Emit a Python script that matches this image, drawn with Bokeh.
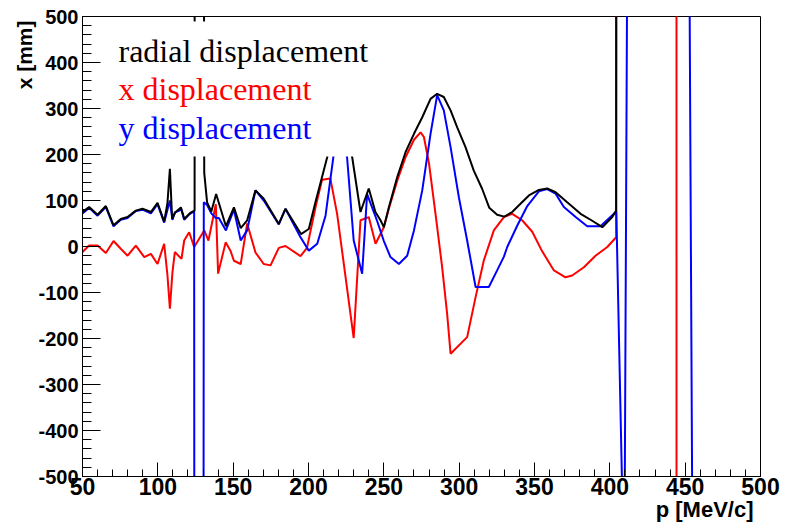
from bokeh.plotting import figure
from bokeh.models import Range1d, SingleIntervalTicker, BoxAnnotation, Label, PrintfTickFormatter, Title
from bokeh.embed import file_html
from bokeh.resources import INLINE

# ---- data ----
# x displacement (red)
x_p = [50, 54.4, 60, 65.5, 70.6, 75.4, 79.9, 85.4, 91, 95.4, 99.8, 104.2, 106.4, 108, 109.7,
       111.3, 115.7, 117.5, 120.8, 124.1, 130.8, 133.6, 138.5, 140, 145, 148.2, 150.5, 155,
       159.3, 164.8, 170.3, 174.8, 180.3, 184.7, 194.7, 199, 201.3, 205, 209, 214.5, 219, 230,
       234.5, 240, 244.5, 250, 253.3, 258.9, 264.4, 270, 274.4, 276.6, 280, 284.3, 288.7, 292,
       294.3, 305.3, 310.9, 316.4, 323, 329.7, 335.2, 341.8, 348.5, 355, 362.9, 370.6, 375,
       382.8, 390.5, 398.3, 404.2, 404.5, 444.2, 444.3, 500]
x_val = [-12, 2, 2, -14, 12, -5, -20, 2, -23, -16, -38, 6, -63, -135, -56,
         -12, -27, 13, 31, -1, 35, 13, 92, -59, 9, -9, -31, -38,
         50, -13, -38, -41, -3, 1, -21, -3, 33, 90, 145, 148, 71, -199,
         57, 64, 6, 42, 82, 143, 194, 232, 248, 238, 180, 71, -45, -146,
         -233, -197, -110, -30, 35, 64, 71, 57, 32, -10, -52, -67, -63,
         -45, -20, -1, 20, 3000, 3000, -3000, -3000]

# y displacement (blue)
y_p = [50, 54.4, 60, 65.5, 70.6, 75.4, 79.9, 85.4, 89.8, 95.4, 99.8, 104.2, 106.4, 108, 109.7,
       111.3, 115.7, 117.5, 120.8, 124.1, 124.6, 129.8, 130.5, 132.7, 135.5, 138.5, 140.5,
       145.2, 150.5, 155, 159.3, 164.8, 170.3, 180.3, 184.7, 194.7, 200.2, 205.8, 211.3, 220,
       225.6, 230, 235.6, 238.9, 245.5, 249.9, 254.4, 260, 265.5, 270, 275.5, 281, 285.4,
       289.8, 294.3, 299.8, 305.3, 310.9, 319.7, 325.2, 329.7, 331.9, 338.5, 345.2, 352.9,
       358.4, 364, 369.5, 377.3, 385, 393.8, 404.3, 409.6, 412.5, 452.6, 456, 500]
y_val = [72, 84, 67, 86, 44, 58, 62, 77, 80, 72, 92, 52, 80, 100, 58,
         74, 80, 58, 70, 77, -3000, -3000, 96, 90, 72, 62, 62,
         35, 80, 13, 35, 122, 100, 48, 82, 20, -9, 6, 67, 280,
         194, 13, -59, 114, 56, 13, -23, -38, -20, 35, 122, 245, 329,
         296, 216, 107, 13, -88, -88, -52, -22, -1, 45, 88, 120,
         125, 115, 86, 64, 44, 44, 76, -750, 1300, 750, -1375, -1500]

# radial displacement (black)
r_p = [50, 54.4, 60, 65.5, 70.6, 75.4, 79.9, 85.4, 89.8, 95.4, 99.8, 104.2, 106.4, 108, 109.5,
       111.5, 115.3, 117.5, 121.5, 124.4, 124.6, 129.7, 130.8, 132.7, 135.5, 138.7, 145.2,
       150.5, 155, 159.3, 164.8, 170.3, 180.3, 184.7, 195, 200.2, 204.6, 209, 212.4, 220,
       229, 234.5, 240, 244.4, 247.8, 250, 253.3, 258.9, 264.4, 270, 275.5, 281, 285.4, 289.8,
       294.3, 298.7, 304.2, 309.7, 315.3, 320, 325.2, 330, 335.2, 340.7, 346.3, 352.9, 358.4,
       364, 371.7, 380.6, 388.3, 395, 401.6, 404.2, 404.5, 500]
r_val = [75, 86, 69, 88, 46, 60, 64, 78, 82, 75, 95, 54, 95, 169, 60,
         74, 85, 60, 73, 78, 3000, 3000, 160, 96, 76, 114, 44,
         85, 40, 57, 122, 104, 49, 82, 27, 38, 96, 151, 194, 300,
         194, 75, 126, 75, 57, 42, 85, 151, 205, 245, 281, 321, 332, 325,
         296, 259, 216, 165, 125, 84, 69, 65, 75, 93, 111, 123, 126,
         118, 96, 71, 56, 42, 64, 78, 3000, 3000]

legend_labels = ["radial displacement", "x displacement", "y displacement"]
legend_colors = ["black", "#ff0000", "#0000ff"]

# ---- figure ----
p = figure(width=793, height=522, output_backend="svg", toolbar_location=None,
           x_range=Range1d(50, 500), y_range=Range1d(-500, 500),
           min_border_left=82, min_border_right=33, min_border_top=16, min_border_bottom=46)
p.background_fill_color = "white"
p.border_fill_color = "white"
p.outline_line_color = "black"
p.outline_line_width = 1
p.xgrid.visible = False
p.ygrid.visible = False

p.xaxis.ticker = SingleIntervalTicker(interval=50, num_minor_ticks=5)
p.yaxis.ticker = SingleIntervalTicker(interval=100, num_minor_ticks=5)
for ax in (p.xaxis, p.yaxis):
    ax.formatter = PrintfTickFormatter(format="%d")
    ax.axis_line_color = "black"
    ax.major_tick_line_color = "black"
    ax.minor_tick_line_color = "black"
    ax.major_tick_out = 0
    ax.minor_tick_out = 0
    ax.major_label_text_font = "Liberation Sans"
    ax.major_label_text_font_style = "bold"
    ax.major_label_text_color = "black"
p.xaxis.major_tick_in = 14
p.xaxis.minor_tick_in = 7
p.yaxis.major_tick_in = 18
p.yaxis.minor_tick_in = 9
p.xaxis.major_label_text_font_size = "23px"
p.yaxis.major_label_text_font_size = "20px"
p.xaxis.major_label_standoff = 1
p.yaxis.major_label_standoff = 4

p.line(x_p, x_val, line_color="#ff0000", line_width=2)
p.line(y_p, y_val, line_color="#0000ff", line_width=2)
p.line(r_p, r_val, line_color="black", line_width=2)

# legend box (white, borderless) drawn over the curves
p.add_layout(BoxAnnotation(left=62.9, right=247.8, top=489, bottom=195.7,
                           fill_color="white", fill_alpha=1.0, line_alpha=0))
for i, (lab, col) in enumerate(zip(legend_labels, legend_colors)):
    p.add_layout(Label(x=50, y=500, x_offset=36, y_offset=-34 - 38.5 * i, text=lab,
                       text_color=col, text_font="Liberation Serif", text_font_size="32px",
                       text_align="left", text_baseline="alphabetic"))

# axis titles (as side titles so they are not clipped by the frame)
p.add_layout(Title(text="p [MeV/c]", align="right", offset=7, standoff=-5,
                   text_font="Liberation Sans", text_font_style="bold", text_font_size="22px",
                   text_color="black"), "below")
p.add_layout(Title(text="x [mm]", align="right", offset=4, standoff=0,
                   text_font="Liberation Sans", text_font_style="bold", text_font_size="21px",
                   text_color="black"), "left")

open("out.html", "w").write(file_html(p, INLINE))
